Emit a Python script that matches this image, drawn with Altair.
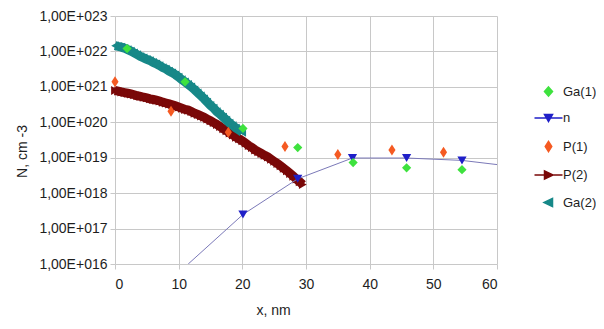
import altair as alt
import pandas as pd

# ---------------- data ----------------
ga1_x = [1.9, 11.0, 20.1, 28.7, 37.4, 45.8, 54.5]
ga1_y = [1.2e22, 1.39e21, 6.7e19, 1.93e19, 7.3e18, 5.2e18, 4.6e18]

p1_x = [0.0, 8.8, 17.8, 26.7, 35.0, 43.5, 51.6]
p1_y = [1.4e21, 2.06e20, 5.2e19, 2.06e19, 1.24e19, 1.66e19, 1.42e19]

n_x = [20.1, 28.7, 37.3, 45.8, 54.5]
n_y = [2.5e17, 2.54e18, 9.8e18, 9.8e18, 8.4e18]

n_line_x = [11.5, 20.1, 28.7, 37.3, 45.8, 54.5, 60.0]
n_line_y = [1.0e16, 2.5e17, 2.54e18, 9.8e18, 9.8e18, 8.4e18, 6.4e18]

ga2_x = [0.0, 0.5, 1.0, 1.5, 2.0, 2.5, 3.0, 3.5, 4.0, 4.5, 5.0, 5.5, 6.0, 6.5,
         7.0, 7.5, 8.0, 8.5, 9.0, 9.5, 10.0, 10.5, 11.0, 11.5, 12.0, 12.5,
         13.0, 13.5, 14.0, 14.5, 15.0, 15.5, 16.0, 16.5, 17.0, 17.5, 18.0,
         18.5, 19.0, 19.5, 20.0]
ga2_y = [1.45e22, 1.38e22, 1.32e22, 1.23e22, 1.12e22, 1.02e22, 9.1e21, 8.1e21,
         7.2e21, 6.6e21, 6.0e21, 5.5e21, 4.9e21, 4.5e21, 4.0e21, 3.5e21,
         3.2e21, 2.8e21, 2.5e21, 2.2e21, 1.9e21, 1.6e21, 1.38e21, 1.17e21,
         1.0e21, 8.3e20, 6.8e20, 5.6e20, 4.6e20, 3.7e20, 3.0e20, 2.5e20,
         2.0e20, 1.7e20, 1.4e20, 1.15e20, 9.5e19, 8.1e19, 6.9e19, 6.0e19,
         5.2e19]

p2_x = [0.0, 0.5, 1.0, 1.5, 2.0, 2.5, 3.0, 3.5, 4.0, 4.5, 5.0, 5.5, 6.0, 6.5,
        7.0, 7.5, 8.0, 8.5, 9.0, 9.5, 10.0, 10.5, 11.0, 11.5, 12.0, 12.5,
        13.0, 13.5, 14.0, 14.5, 15.0, 15.5, 16.0, 16.5, 17.0, 17.5, 18.0,
        18.5, 19.0, 19.5, 20.0, 20.5, 21.0, 21.5, 22.0, 22.5, 23.0, 23.5,
        24.0, 24.5, 25.0, 25.5, 26.0, 26.5, 27.0, 27.5, 28.0, 28.5, 29.0,
        29.5]
p2_y = [7.9e20, 7.6e20, 7.2e20, 6.9e20, 6.6e20, 6.3e20, 6.0e20, 5.6e20,
        5.4e20, 5.1e20, 4.9e20, 4.6e20, 4.4e20, 4.2e20, 4.0e20, 3.7e20,
        3.5e20, 3.3e20, 3.1e20, 2.9e20, 2.7e20, 2.5e20, 2.3e20, 2.2e20,
        2.0e20, 1.8e20, 1.66e20, 1.51e20, 1.38e20, 1.23e20, 1.10e20, 9.8e19,
        8.7e19, 7.6e19, 6.6e19, 5.8e19, 5.0e19, 4.4e19, 3.8e19, 3.4e19,
        3.0e19, 2.6e19, 2.2e19, 1.95e19, 1.66e19, 1.48e19, 1.32e19, 1.17e19,
        1.05e19, 9.1e18, 7.9e18, 6.9e18, 5.9e18, 5.0e18, 4.3e18, 3.6e18,
        3.0e18, 2.5e18, 2.1e18, 1.74e18]

x_ticks = [0, 10, 20, 30, 40, 50, 60]
y_ticks = [1e16, 1e17, 1e18, 1e19, 1e20, 1e21, 1e22, 1e23]

legend_labels = ["Ga(1)", "n", "P(1)", "P(2)", "Ga(2)"]
legend_colors = ["#3ee23e", "#1f1fc8", "#f55a22", "#7a0808", "#178888"]
legend_shapes = [
    "M0,-0.9L0.8,0L0,0.9L-0.8,0Z",
    "M-2.8,0H2.8M-0.8,-0.7H0.8L0,0.7Z",
    "M0,-1L0.65,0L0,1L-0.65,0Z",
    "M-2.8,0H2.8M-0.8,-0.8L0.9,0L-0.8,0.8Z",
    "M0.8,-0.8L-0.9,0L0.8,0.8Z",
]

FONT = "Liberation Sans, Arial, sans-serif"
TXT = "#1e1e1e"
GRID = "#c8c8c8"

ga1 = pd.DataFrame({"x": ga1_x, "y": ga1_y})
p1 = pd.DataFrame({"x": p1_x, "y": p1_y})
npts = pd.DataFrame({"x": n_x, "y": n_y})
nline = pd.DataFrame({"x": n_line_x, "y": n_line_y})
ga2 = pd.DataFrame({"x": ga2_x, "y": ga2_y})
p2 = pd.DataFrame({"x": p2_x, "y": p2_y})
leg = pd.DataFrame({"series": legend_labels})

x_enc = alt.X(
    "x:Q",
    scale=alt.Scale(domain=[0, 60], nice=False, zero=False),
    axis=alt.Axis(
        values=x_ticks, title="x, nm", grid=True, gridColor=GRID, domain=False,
        tickColor=GRID, tickSize=5, labelPadding=8, labelFont=FONT,
        labelFontSize=14, labelColor=TXT, titleFont=FONT, titleFontSize=14,
        titleFontWeight="normal", titleColor=TXT, titleX=158, titleY=50,
        titleBaseline="alphabetic", titleAlign="center",
    ),
)
y_enc = alt.Y(
    "y:Q",
    scale=alt.Scale(type="log", domain=[1e16, 1e23], nice=False),
    axis=alt.Axis(
        values=y_ticks, title="N, cm -3", grid=True, gridColor=GRID, domain=False,
        tickColor=GRID, tickSize=5, labelPadding=3, labelFont=FONT,
        labelFontSize=14, labelColor=TXT,
        labelExpr="'1,00E+0' + format(round(log(datum.value) / LN10), 'd')",
        titleFont=FONT, titleFontSize=14, titleFontWeight="normal",
        titleColor=TXT, titleX=-93, titleY=135, titleAngle=270,
        titleBaseline="middle", titleAlign="center",
    ),
)

p2_line = alt.Chart(p2).mark_line(color=legend_colors[3], strokeWidth=9).encode(x=x_enc, y=y_enc)
p2_pts = alt.Chart(p2).mark_point(
    shape="triangle-right", filled=True, size=80, opacity=1, color=legend_colors[3]
).encode(x=x_enc, y=y_enc)
ga2_line = alt.Chart(ga2).mark_line(color=legend_colors[4], strokeWidth=9).encode(x=x_enc, y=y_enc)
ga2_pts = alt.Chart(ga2).mark_point(
    shape="triangle-left", filled=True, size=75, opacity=1, color=legend_colors[4]
).encode(x=x_enc, y=y_enc)
n_ln = alt.Chart(nline).mark_line(color="#7b79b8", strokeWidth=1, clip=True).encode(x=x_enc, y=y_enc)
n_pts = alt.Chart(npts).mark_point(
    shape="triangle-down", filled=True, size=85, opacity=1, color=legend_colors[1]
).encode(x=x_enc, y=y_enc)
p1_pts = alt.Chart(p1).mark_point(
    shape="M0,-1L0.65,0L0,1L-0.65,0Z", filled=True, size=120, opacity=1,
    color=legend_colors[2]
).encode(x=x_enc, y=y_enc)
ga1_pts = alt.Chart(ga1).mark_point(
    shape="diamond", filled=True, size=85, opacity=1, color=legend_colors[0]
).encode(x=x_enc, y=y_enc)

leg_def = dict(
    orient="none", legendX=427, legendY=69, title=None, padding=0,
    labelFont=FONT, labelFontSize=13, labelColor=TXT, labelOffset=8,
    rowPadding=12.5,
)
legend_layer = alt.Chart(leg).transform_filter("false").mark_point(
    filled=True, opacity=1, size=100, strokeWidth=1.5
).encode(
    color=alt.Color("series:N", scale=alt.Scale(domain=legend_labels, range=legend_colors),
                    legend=alt.Legend(**leg_def)),
    stroke=alt.Stroke("series:N", scale=alt.Scale(domain=legend_labels, range=legend_colors),
                      legend=alt.Legend(**leg_def)),
    shape=alt.Shape("series:N", scale=alt.Scale(domain=legend_labels, range=legend_shapes),
                    legend=alt.Legend(**leg_def)),
)

chart = alt.layer(
    p2_line, p2_pts, ga2_line, ga2_pts, n_ln, n_pts, p1_pts, ga1_pts, legend_layer
).properties(
    width=382, height=248,
    autosize=alt.AutoSizeParams(type="none"),
    padding={"left": 107, "top": 8, "right": 99, "bottom": 55},
    background="white",
).configure_view(stroke=None)

chart.save("out.html", embed_options={"renderer": "svg", "actions": False})
